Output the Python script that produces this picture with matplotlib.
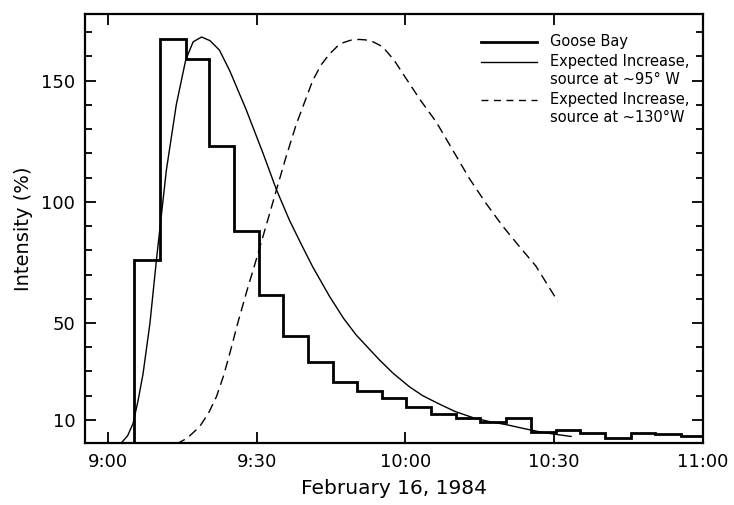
import matplotlib
matplotlib.use("Agg")
import matplotlib.pyplot as plt
from matplotlib.lines import Line2D
from matplotlib.ticker import FixedLocator

# Goose Bay counts: bin edges (minutes after 9:00) and intensity (%)
goose_edges = [5.2, 10.5, 15.7, 20.5, 25.5, 30.4, 35.4, 40.3, 45.3, 50.3, 55.3,
               60.1, 65.2, 70.1, 75.1, 80.2, 85.3, 90.3, 95.2, 100.3, 105.4,
               110.4, 115.6, 120.0]
goose_vals = [76, 167, 159, 123, 88, 61.5, 44.6, 33.8, 25.8, 22.0, 19.2,
              15.3, 12.6, 10.7, 9.2, 10.9, 5.2, 6.0, 4.5, 2.4, 4.8, 4.4, 3.3]

# expected increase, source at ~95 W
w95_t = [2.5, 4.0, 5.1, 6.1, 7.1, 8.5, 9.8, 11.8, 13.8, 15.7, 17.2, 18.9, 20.6,
         22.5, 24.6, 27.9, 31.3, 34.0, 36.6, 39.0, 41.3, 44.7, 47.5, 50.1,
         54.8, 57.5, 60.8, 63.5, 66.9, 70.0, 73.7, 77.0, 80.5, 84.0, 87.3,
         90.5, 93.4]
w95_v = [0, 3.5, 8.6, 18, 29, 50, 76, 113, 140, 158.5, 166, 168, 166.5,
         162.6, 154, 138, 120, 105, 92.5, 82.5, 73.2, 61, 52, 45,
         34.7, 29.3, 23.7, 20, 16.5, 13.5, 10.9, 9.3, 8.0, 6.4, 5.0,
         4.0, 3.2]

# expected increase, source at ~130 W
w130_t = [13.8, 16.0, 18.5, 20.3, 21.9, 23.3, 24.6, 26.2, 28.0, 29.9, 32.6,
          34.0, 36.0, 38.0, 41.3, 43.0, 44.7, 46.2, 47.5, 49.0, 50.7, 52.0,
          53.5, 55.4, 57.7, 60.1, 63.0, 66.2, 69.5, 72.9, 76.2, 79.6, 83.0,
          86.3, 90.7]
w130_v = [0, 2.5, 7.2, 12.8, 19.6, 28, 37.5, 50, 63, 76, 95,
          105, 119, 132, 150, 156.5, 161, 164, 165.7, 166.7, 167, 166.8,
          166, 164, 158.5, 151, 142, 133, 121.5, 109.6, 99.5, 90, 81.5,
          73.5, 59]

x_ticks = [0, 30, 60, 90, 120]
x_labels = ["9:00", "9:30", "10:00", "10:30", "11:00"]
y_ticks = [10, 50, 100, 150]
y_minor = [20, 30, 40, 60, 70, 80, 90, 110, 120, 130, 140, 160, 170]

legend_labels = ["Goose Bay",
                 "Expected Increase,\nsource at ~95° W",
                 "Expected Increase,\nsource at ~130°W"]

fig = plt.figure(figsize=(7.34, 5.05), dpi=100)
ax = fig.add_axes([0.1158, 0.1228, 0.842, 0.8495])

ax.stairs(goose_vals, goose_edges, baseline=None, color="black", linewidth=2.0)
ax.plot([goose_edges[0], goose_edges[0]], [0, goose_vals[0]], color="black",
        linewidth=2.0)
ax.plot(w95_t, w95_v, color="black", linewidth=1.0)
ax.plot(w130_t, w130_v, color="black", linewidth=1.0, dashes=(7, 4))

ax.set_xlim(-4.6, 120)
ax.set_ylim(0.5, 177.5)
ax.set_xticks(x_ticks)
ax.set_xticklabels(x_labels)
ax.set_yticks(y_ticks)
ax.yaxis.set_minor_locator(FixedLocator(y_minor))

ax.tick_params(which="both", direction="in", top=True, right=True,
               labelsize=13, width=1.3)
ax.tick_params(which="major", length=8, pad=7)
ax.tick_params(which="minor", length=5)
for sp in ax.spines.values():
    sp.set_linewidth(1.6)

ax.set_xlabel("February 16, 1984", fontsize=14.5, labelpad=6)
ax.set_ylabel("Intensity (%)", fontsize=14, labelpad=6)

# hand-drawn key, handle level with the first line of each label
key_styles = [dict(linewidth=2.0), dict(linewidth=1.0), dict(linewidth=1.0, dashes=(5, 4))]
key_rows = [0.935, 0.888, 0.800]
for lab, st, yy in zip(legend_labels, key_styles, key_rows):
    ax.add_line(Line2D([0.641, 0.731], [yy, yy], color="black",
                       transform=ax.transAxes, **st))
    ax.text(0.752, yy + 0.019, lab, transform=ax.transAxes, fontsize=10.5,
            va="top", ha="left", linespacing=1.3)

fig.savefig("out.png", dpi=100)
